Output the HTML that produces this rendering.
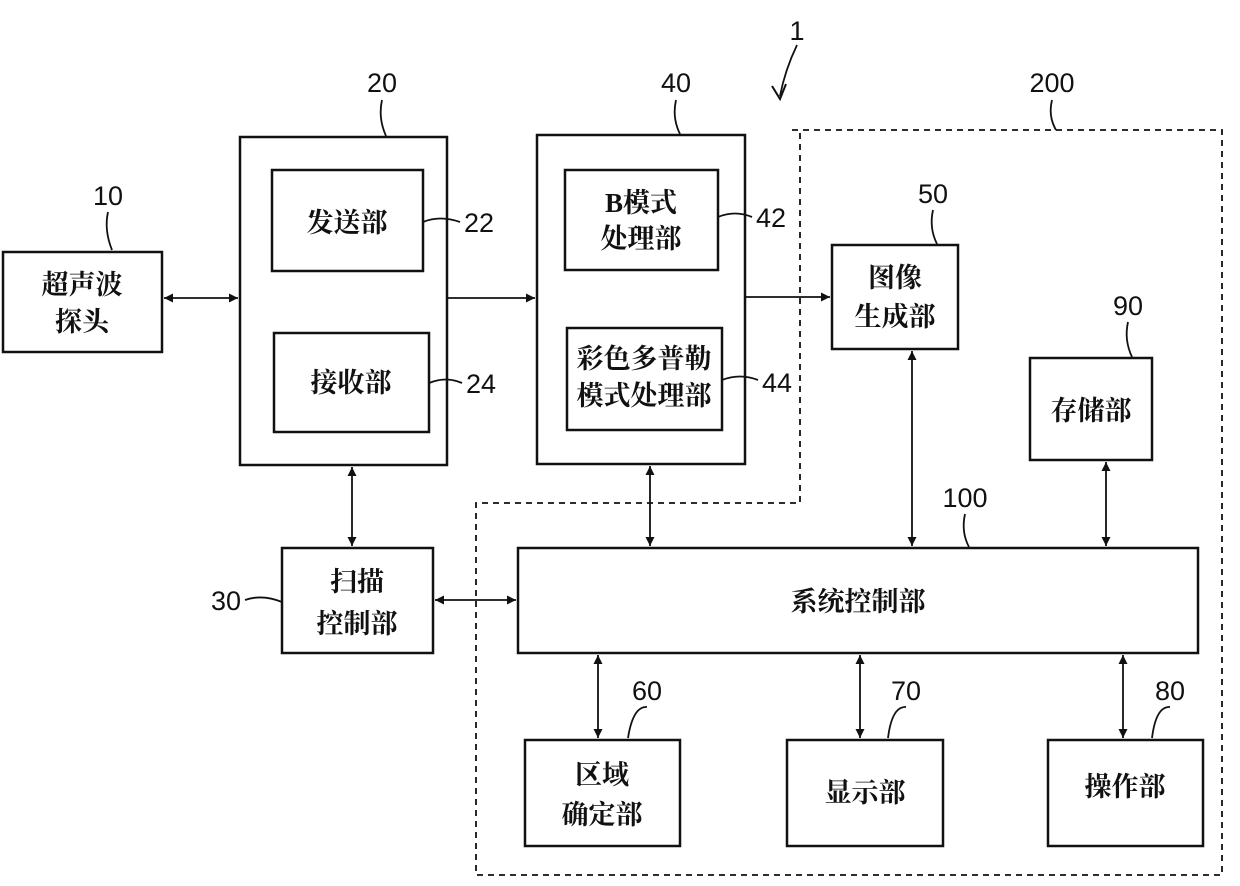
<!DOCTYPE html>
<html><head><meta charset="utf-8"><style>
html,body{margin:0;padding:0;background:#fff;}
svg text{font-family:"Liberation Serif","Noto Serif CJK SC","Noto Sans CJK SC",serif;fill:#111;}
.c{font-size:27px;font-weight:bold;text-anchor:middle;}
.n{font-family:"Liberation Sans",sans-serif !important;font-size:27px;text-anchor:middle;}
</style></head><body>
<svg width="1240" height="881" viewBox="0 0 1240 881" xmlns="http://www.w3.org/2000/svg">
<defs>
<marker id="a" viewBox="0 0 10 10" refX="10" refY="5" markerWidth="11" markerHeight="9" orient="auto-start-reverse" markerUnits="userSpaceOnUse"><path d="M0,0 L10,5 L0,10 z" fill="#111"/></marker>
</defs>
<g fill="none" stroke="#111" stroke-width="2.5">
<path d="M792,130 L1222,130 L1222,875 L476,875 L476,503 L800,503 L800,130" stroke-dasharray="6,5" stroke-width="1.8"/>
<rect x="3" y="252" width="159" height="100"/>
<rect x="240" y="137" width="207" height="328"/>
<rect x="272" y="170" width="151" height="101"/>
<rect x="274" y="333" width="155" height="99"/>
<rect x="537" y="135" width="208" height="329"/>
<rect x="565" y="170" width="153" height="100"/>
<rect x="567" y="328" width="155" height="102"/>
<rect x="832" y="245" width="126" height="104"/>
<rect x="1030" y="358" width="122" height="102"/>
<rect x="518" y="548" width="680" height="105"/>
<rect x="282" y="548" width="151" height="105"/>
<rect x="525" y="740" width="155" height="106"/>
<rect x="787" y="740" width="156" height="106"/>
<rect x="1048" y="740" width="155" height="106"/>
</g>
<g stroke="#111" stroke-width="1.8" fill="none">
<line x1="164" y1="298" x2="238" y2="298" marker-start="url(#a)" marker-end="url(#a)"/>
<line x1="447" y1="298" x2="535" y2="298" marker-end="url(#a)"/>
<line x1="745" y1="297" x2="830" y2="297" marker-end="url(#a)"/>
<line x1="352" y1="467" x2="352" y2="546" marker-start="url(#a)" marker-end="url(#a)"/>
<line x1="650" y1="466" x2="650" y2="546" marker-start="url(#a)" marker-end="url(#a)"/>
<line x1="912" y1="351" x2="912" y2="546" marker-start="url(#a)" marker-end="url(#a)"/>
<line x1="1106" y1="462" x2="1106" y2="546" marker-start="url(#a)" marker-end="url(#a)"/>
<line x1="435" y1="600" x2="516" y2="600" marker-start="url(#a)" marker-end="url(#a)"/>
<line x1="598" y1="655" x2="598" y2="738" marker-start="url(#a)" marker-end="url(#a)"/>
<line x1="860" y1="655" x2="860" y2="738" marker-start="url(#a)" marker-end="url(#a)"/>
<line x1="1123" y1="655" x2="1123" y2="738" marker-start="url(#a)" marker-end="url(#a)"/>
<!-- leaders -->
<path d="M108,212 Q104,230 112,250"/>
<path d="M382,100 Q378,118 386,136"/>
<path d="M676,100 Q672,118 680,134"/>
<path d="M1052,100 Q1048,116 1056,130"/>
<path d="M933,210 Q929,228 937,244"/>
<path d="M1128,322 Q1124,340 1132,357"/>
<path d="M965,514 Q961,532 969,547"/>
<path d="M245,600 Q262,594 282,602"/>
<path d="M647,707 Q633,706 628,738"/>
<path d="M906,707 Q892,706 888,738"/>
<path d="M1170,707 Q1156,706 1152,738"/>
<path d="M423,222 Q440,215 460,222"/>
<path d="M718,217 Q735,210 752,217"/>
<path d="M429,383 Q446,376 462,383"/>
<path d="M722,380 Q740,373 758,380"/>
<path d="M797,45 Q785,70 780,96"/>
</g>
<path d="M772,86 L780,99 L786,84" stroke="#111" stroke-width="2" fill="none"/>
<text class="c" x="82" y="294">超声波</text>
<text class="c" x="82" y="331">探头</text>
<text class="c" x="347" y="232">发送部</text>
<text class="c" x="351" y="392">接收部</text>
<text class="c" x="641" y="212">B模式</text>
<text class="c" x="641" y="248">处理部</text>
<text class="c" x="644" y="368">彩色多普勒</text>
<text class="c" x="644" y="405">模式处理部</text>
<text class="c" x="895" y="287">图像</text>
<text class="c" x="895" y="326">生成部</text>
<text class="c" x="1091" y="420">存储部</text>
<text class="c" x="858" y="611">系统控制部</text>
<text class="c" x="357" y="591">扫描</text>
<text class="c" x="357" y="633">控制部</text>
<text class="c" x="602" y="784">区域</text>
<text class="c" x="602" y="824">确定部</text>
<text class="c" x="865" y="802">显示部</text>
<text class="c" x="1125" y="796">操作部</text>
<text class="n" x="108" y="205">10</text>
<text class="n" x="382" y="92">20</text>
<text class="n" x="676" y="92">40</text>
<text class="n" x="797" y="40">1</text>
<text class="n" x="1052" y="92">200</text>
<text class="n" x="933" y="203">50</text>
<text class="n" x="1128" y="315">90</text>
<text class="n" x="965" y="507">100</text>
<text class="n" x="226" y="610">30</text>
<text class="n" x="647" y="700">60</text>
<text class="n" x="906" y="700">70</text>
<text class="n" x="1170" y="700">80</text>
<text class="n" x="479" y="232">22</text>
<text class="n" x="771" y="227">42</text>
<text class="n" x="481" y="393">24</text>
<text class="n" x="777" y="392">44</text>
</svg>
</body></html>
